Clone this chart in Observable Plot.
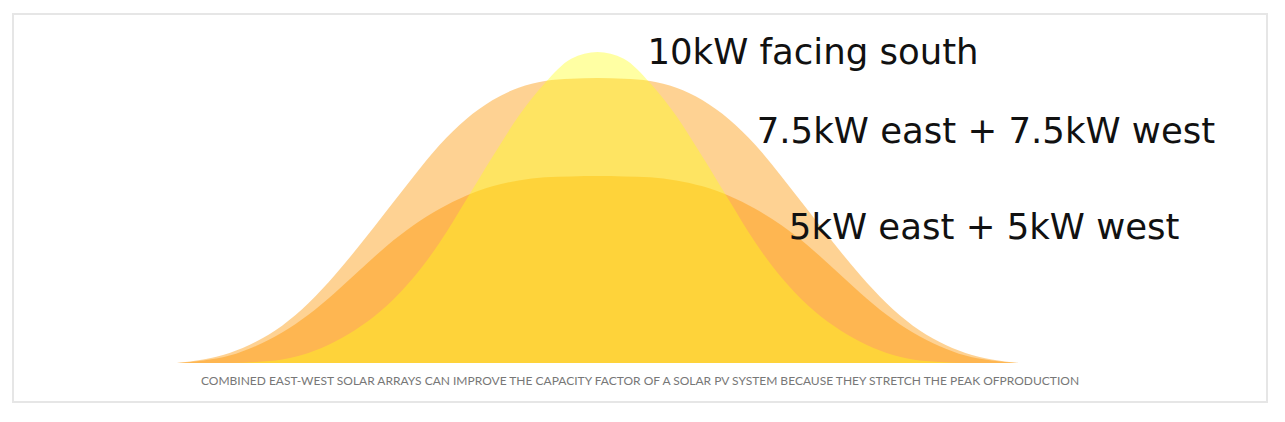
<!DOCTYPE html>
<html>
<head>
<meta charset="utf-8">
<script src="https://cdn.jsdelivr.net/npm/d3@7"></script>
<script src="https://cdn.jsdelivr.net/npm/@observablehq/plot@0.6"></script>
<style>
  html, body { margin: 0; padding: 0; background: #fff; }
  #wrap { position: relative; width: 1285px; height: 422px; overflow: hidden; }
  #box { position: absolute; left: 12px; top: 13px; width: 1252px; height: 386px; border: 2px solid #e6e6e6; }
  #chart { position: absolute; left: 0; top: 0; }
  #caption { position: absolute; left: 12px; width: 1256px; top: 375px; text-align: center;
             font-family: Lato, sans-serif; font-size: 12px; line-height: 12px; color: #777; white-space: nowrap; }
</style>
</head>
<body>
<div id="wrap">
  <div id="box"></div>
  <div id="chart"></div>
  <div id="caption"></div>
</div>
<script>
// Hour of day (solar noon at 13)
const hours = [5, 5.5, 6, 6.5, 7, 7.5, 8, 8.5, 9, 9.5, 10, 10.5, 11, 11.5, 12, 12.5, 13,
               13.5, 14, 14.5, 15, 15.5, 16, 16.5, 17, 17.5, 18, 18.5, 19, 19.5, 20, 20.5, 21];

// Output (kW) per array configuration
const south10 = [0, 0, 0, 0.03, 0.11, 0.32, 0.68, 1.19, 1.86, 2.75, 3.88, 5.24, 6.62, 7.94, 9.00, 9.78, 10,
                 9.78, 9.00, 7.94, 6.62, 5.24, 3.88, 2.75, 1.86, 1.19, 0.68, 0.32, 0.11, 0.03, 0, 0, 0];
const ew75 = [0, 0.11, 0.32, 0.68, 1.20, 1.92, 2.82, 3.84, 4.92, 6.00, 7.02, 7.84, 8.45, 8.85, 9.07, 9.14, 9.16,
              9.14, 9.07, 8.85, 8.45, 7.84, 7.02, 6.00, 4.92, 3.84, 2.82, 1.92, 1.20, 0.68, 0.32, 0.11, 0];
const ew5 = [0, 0.08, 0.24, 0.55, 0.98, 1.55, 2.25, 3.02, 3.78, 4.43, 4.96, 5.38, 5.68, 5.87, 5.97, 6.00, 6.01,
             6.00, 5.97, 5.87, 5.68, 5.38, 4.96, 4.43, 3.78, 3.02, 2.25, 1.55, 0.98, 0.55, 0.24, 0.08, 0];

// Series labels and where they sit (hour, kW)
const labelTexts = ["10kW facing south", "7.5kW east + 7.5kW west", "5kW east + 5kW west"];
const labelHours = [13.94, 16.02, 16.63];
const labelValues = [10.0, 7.44, 4.38];

const captionText = "COMBINED EAST-WEST SOLAR ARRAYS CAN IMPROVE THE CAPACITY FACTOR OF A SOLAR PV SYSTEM BECAUSE THEY STRETCH THE PEAK OFPRODUCTION";

const toRows = (vals) => hours.map((h, i) => ({hour: h, kw: vals[i]}));
const labels = labelTexts.map((t, i) => ({text: t, hour: labelHours[i], kw: labelValues[i]}));

const plot = Plot.plot({
  width: 1285,
  height: 422,
  marginLeft: 177,
  marginRight: 267,
  marginTop: 52,
  marginBottom: 59,
  x: {domain: [5, 21], axis: null},
  y: {domain: [0, 10], axis: null},
  style: {background: "transparent", overflow: "visible"},
  marks: [
    Plot.areaY(toRows(ew75), {x: "hour", y: "kw", fill: "rgb(253,165,40)", fillOpacity: 0.5, curve: "monotone-x"}),
    Plot.areaY(toRows(ew5), {x: "hour", y: "kw", fill: "rgb(253,165,40)", fillOpacity: 0.62, curve: "monotone-x"}),
    Plot.areaY(toRows(south10), {x: "hour", y: "kw", fill: "rgb(255,255,25)", fillOpacity: 0.4, curve: "monotone-x"}),
    Plot.text(labels, {x: "hour", y: "kw", text: "text", textAnchor: "start", lineAnchor: "middle",
      fontSize: 35.5, fontFamily: "DejaVu Sans", fill: "#111"})
  ]
});
document.getElementById("chart").appendChild(plot);
document.getElementById("caption").textContent = captionText;
</script>
</body>
</html>
